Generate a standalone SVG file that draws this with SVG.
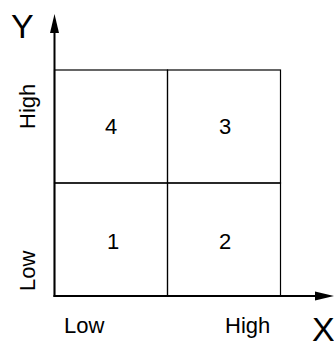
<svg xmlns="http://www.w3.org/2000/svg" width="334" height="341" viewBox="0 0 334 341">
<defs>
<style>
text{font-family:"Liberation Sans",Arial,sans-serif;fill:#000;}
.num{font-size:22px;text-anchor:middle;}
.lbl{font-size:22px;}
.ax{font-size:34px;}
.grid{fill:none;stroke:#000;stroke-width:1.2;}
.axis{fill:none;stroke:#000;stroke-width:2;}
</style>
</defs>
<rect width="334" height="341" fill="#fff"/>
<g id="q4"><rect class="grid" x="54.5" y="70" width="113" height="113"/><text class="num" x="111" y="134">4</text></g>
<g id="q3"><rect class="grid" x="167.5" y="70" width="113" height="113"/><text class="num" x="225" y="134">3</text></g>
<g id="q1"><rect class="grid" x="54.5" y="183" width="113" height="113"/><text class="num" x="113" y="249">1</text></g>
<g id="q2"><rect class="grid" x="167.5" y="183" width="113" height="113"/><text class="num" x="225" y="249">2</text></g>
<g id="connectors">
<line class="axis" x1="54.5" y1="297" x2="54.5" y2="32"/>
<polygon points="54.5,14 50,33 59,33" fill="#000"/>
<line class="axis" x1="53.5" y1="296" x2="318" y2="296"/>
<polygon points="334,296 315,291.5 315,300.5" fill="#000"/>
</g>
<g id="labels">
<text class="ax" x="11" y="38">Y</text>
<text class="ax" x="312" y="341">X</text>
<text class="lbl" x="64" y="333">Low</text>
<text class="lbl" x="225" y="333">High</text>
<text class="lbl" transform="translate(35,129) rotate(-90)">High</text>
<text class="lbl" transform="translate(35,291) rotate(-90)">Low</text>
</g>
</svg>
